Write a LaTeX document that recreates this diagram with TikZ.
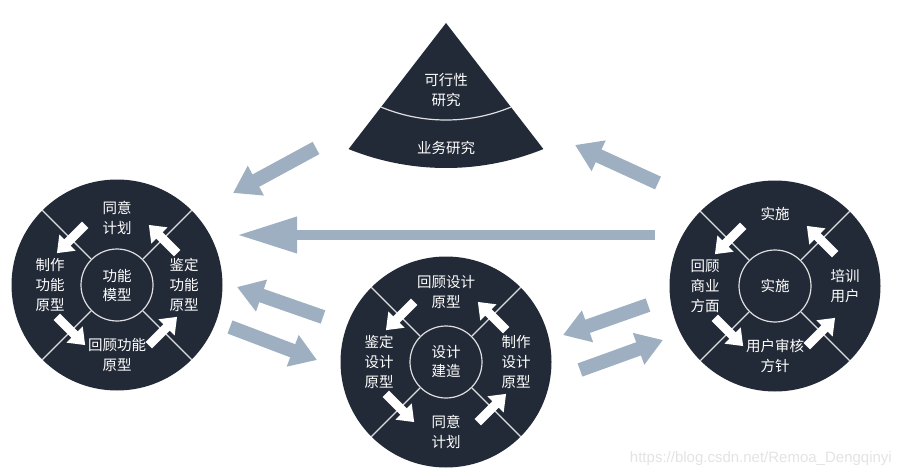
\documentclass[tikz,border=0pt]{standalone}
\usepackage{fontspec}
\newfontfamily\cjk{Noto Sans CJK SC}
\newfontfamily\wmfont{Liberation Sans}
\usetikzlibrary{arrows.meta,calc}
\definecolor{navy}{HTML}{232A37}
\definecolor{steel}{HTML}{9DAFC0}

\begin{document}
\begin{tikzpicture}[x=1pt,y=1pt]
    \useasboundingbox (0,0) rectangle (902,-476);
    \tikzset{
        phase/.style = {circle, fill=navy, minimum size=211pt, inner sep=0pt},
        core/.style = {circle, draw=white!85!navy, line width=1.2pt,
            minimum size=72pt, inner sep=0pt, text=white,
            font=\cjk\fontsize{14.5}{19}\selectfont, align=center},
        ringtext/.style = {text=white, inner sep=0pt, align=center,
            font=\cjk\fontsize{14.5}{20}\selectfont},
        divider/.style = {draw=white!85!navy, line width=1.2pt},
        ringarrow/.style = {draw=white, line width=9pt,
            -{Triangle[length=15pt,width=22pt]}},
        bigarrow/.style = {draw=steel, line width=14pt,
            -{Triangle[length=26pt,width=32pt]}},
        longarrow/.style = {draw=steel, line width=10pt,
            -{Triangle[length=60pt,width=34pt]}}
    }
    % feasibility fan
    \coordinate (apex) at (446,-23);
    \coordinate (fanc) at (446,92);
    \fill[navy] (apex) -- ($(fanc)+(248:260)$)
        arc[start angle=248, end angle=292, radius=260] -- cycle;
    \begin{scope}
        \clip (apex) -- ($(fanc)+(248:260)$)
            arc[start angle=248, end angle=292, radius=260] -- cycle;
        \draw[divider] (446,49) circle (169);
    \end{scope}
    \node[ringtext] (feas) at (446,-90) {可行性\\研究};
    \node[ringtext] (biz) at (446,-148) {业务研究};

    % three phase circles
    \node[phase] (func) at (117,-285) {};
    \node[phase] (design) at (446,-362) {};
    \node[phase] (impl) at (775,-286) {};
    \node[core] (funccore) at (func) {功能\\模型};
    \node[core] (designcore) at (design) {设计\\建造};
    \node[core] (implcore) at (impl) {实施};
    \foreach \c in {func,design,impl}{
        \foreach \a in {45,135,225,315}{
            \draw[divider] (\c core.\a) -- (\c.\a);
            \draw[ringarrow] ($(\c)+(\a:65)+(\a-90:20)$) -- ($(\c)+(\a:65)+(\a+90:20)$);
        }
    }

    % ring labels
    \node[ringtext] (f1) at ([yshift=67pt]func.center) {同意\\计划};
    \node[ringtext] (f2) at ([xshift=-67pt]func.center) {制作\\功能\\原型};
    \node[ringtext] (f3) at ([yshift=-70pt]func.center) {回顾功能\\原型};
    \node[ringtext] (f4) at ([xshift=67pt]func.center) {鉴定\\功能\\原型};
    \node[ringtext] (d1) at ([yshift=70pt]design.center) {回顾设计\\原型};
    \node[ringtext] (d2) at ([xshift=-67pt]design.center) {鉴定\\设计\\原型};
    \node[ringtext] (d3) at ([yshift=-70pt]design.center) {同意\\计划};
    \node[ringtext] (d4) at ([xshift=70pt]design.center) {制作\\设计\\原型};
    \node[ringtext] (i1) at ([yshift=72pt]impl.center) {实施};
    \node[ringtext] (i2) at ([xshift=-70pt]impl.center) {回顾\\商业\\方面};
    \node[ringtext] (i3) at ([yshift=-70pt]impl.center) {用户审核\\方针};
    \node[ringtext] (i4) at ([xshift=70pt]impl.center) {培训\\用户};

    % flow between phases
    \coordinate (fanout) at (316,-148);
    \coordinate (funcin) at (233,-193);
    \coordinate (implout) at (655,-235);
    \coordinate (funcback) at (237,-235);
    \coordinate (designout) at (323,-317);
    \coordinate (funcret) at (237,-287);
    \coordinate (funcout) at (230,-327);
    \coordinate (designin) at (317,-360);
    \coordinate (implup) at (658,-183);
    \coordinate (fanin) at (575,-145);
    \coordinate (implleft) at (648,-305);
    \coordinate (designret) at (563,-335);
    \coordinate (designright) at (580,-370);
    \coordinate (implin) at (663,-340);
    \draw[bigarrow] (fanout) -- (funcin);
    \draw[longarrow] (implout) -- (funcback);
    \draw[bigarrow] (designout) -- (funcret);
    \draw[bigarrow] (funcout) -- (designin);
    \draw[bigarrow] (implup) -- (fanin);
    \draw[bigarrow] (implleft) -- (designret);
    \draw[bigarrow] (designright) -- (implin);

    \node[anchor=east, inner sep=0pt, text=gray!22,
        font=\wmfont\fontsize{15}{15}\selectfont] (wm) at (892,-459)
        {https://blog.csdn.net/Remoa\_Dengqinyi};
\end{tikzpicture}
\end{document}
